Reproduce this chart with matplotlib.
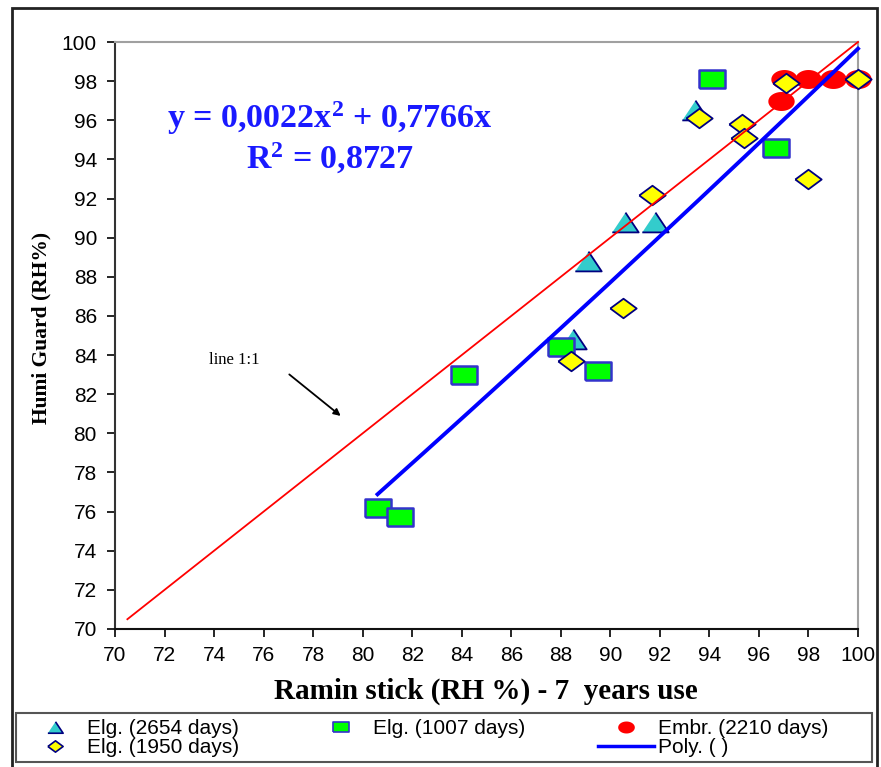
import numpy as np
import matplotlib
matplotlib.use("Agg")
import matplotlib.pyplot as plt
from matplotlib.lines import Line2D
from matplotlib.patches import Rectangle

plt.rcParams["mathtext.fontset"] = "custom"
plt.rcParams["mathtext.bf"] = "Liberation Serif:bold"
plt.rcParams["mathtext.rm"] = "Liberation Serif:bold"
plt.rcParams["mathtext.it"] = "Liberation Serif:bold"

# ---- data ----
tri_x = [93.4, 90.6, 91.8, 89.1, 88.5]
tri_y = [96.5, 90.8, 90.8, 88.8, 84.8]

sq_x = [94.1, 96.7, 84.1, 88.0, 89.5, 80.6, 81.5]
sq_y = [98.1, 94.6, 83.0, 84.4, 83.2, 76.2, 75.7]

circ_x = [97.0, 98.0, 99.0, 100.0, 96.9]
circ_y = [98.1, 98.1, 98.1, 98.1, 97.0]

dia_x = [97.1, 100.0, 93.6, 95.3, 95.4, 91.7, 98.0, 90.5, 88.4]
dia_y = [97.9, 98.1, 96.1, 95.8, 95.1, 92.2, 93.0, 86.4, 83.7]

line11_x = [70.5, 100.0]
poly_a, poly_b = 0.0022, 0.7766

xticks = list(range(70, 101, 2))
yticks = list(range(70, 101, 2))

labels = ["Elg. (2654 days)", "Elg. (1007 days)", "Embr. (2210 days)",
          "Elg. (1950 days)", "Poly. ( )"]

# ---- figure ----
W, H = 881, 767
fig = plt.figure(figsize=(W / 100, H / 100), dpi=100)
ax = fig.add_axes([115 / W, 1 - 629 / H, (858 - 115) / W, (629 - 42) / H])

tri_m = [(-1.0, -0.75), (1.0, -0.75), (0.0, 0.75)]
rect_m = [(-1, -0.7), (1, -0.7), (1, 0.7), (-1, 0.7), (-1, -0.7)]
t = np.linspace(0, 2 * np.pi, 40)
ell_m = list(zip(np.cos(t), 0.72 * np.sin(t)))
dia_m = [(-1, 0), (0, 0.74), (1, 0), (0, -0.74), (-1, 0)]

ms = 19
ax.plot(tri_x, tri_y, ls="none", marker=tri_m, ms=ms, mfc="#33CCCC",
        mec="#000080", mew=1.3, zorder=3, clip_on=False)
ax.plot(sq_x, sq_y, ls="none", marker=rect_m, ms=ms, mfc="#00FF00",
        mec="#3333CC", mew=1.8, zorder=4, clip_on=False)
ax.plot(circ_x, circ_y, ls="none", marker=ell_m, ms=ms, mfc="#FF0000",
        mec="#FF0000", mew=0, zorder=5, clip_on=False)
ax.plot(dia_x, dia_y, ls="none", marker=dia_m, ms=ms, mfc="#FFFF00",
        mec="#000080", mew=1.3, zorder=6, clip_on=False)

ax.plot(line11_x, line11_x, color="#FF0000", lw=1.3, zorder=7, clip_on=False)
all_x = np.array(tri_x + sq_x + circ_x + dia_x)
px = np.linspace(all_x.min(), all_x.max(), 200)
ax.plot(px, poly_a * px ** 2 + poly_b * px, color="#0000FF", lw=2.8,
        zorder=8, clip_on=False)

ax.set_xlim(70, 100)
ax.set_ylim(70, 100)
ax.set_xticks(xticks)
ax.set_yticks(yticks)
ax.tick_params(direction="out", length=6, width=1.2, labelsize=15,
               colors="black")
ax.tick_params(axis="x", pad=6)
ax.tick_params(axis="y", pad=7)
for lab in ax.get_xticklabels() + ax.get_yticklabels():
    lab.set_fontfamily("Liberation Sans")
ax.spines["left"].set_color("#333333")
ax.spines["bottom"].set_color("#111111")
ax.spines["left"].set_linewidth(1.5)
ax.spines["bottom"].set_linewidth(1.5)
ax.spines["top"].set_color("#A0A0A0")
ax.spines["right"].set_color("#A0A0A0")
ax.spines["top"].set_linewidth(1.5)
ax.spines["right"].set_linewidth(1.5)

serif = "Liberation Serif"
ax.text(0.289, 0.870, r"y = 0,0022x$^{2}$ + 0,7766x", transform=ax.transAxes,
        ha="center", va="center", color="#1A1AFF", fontsize=24.5,
        fontweight="bold", family=serif)
ax.text(0.289, 0.802, r"R$^{2}$ = 0,8727", transform=ax.transAxes,
        ha="center", va="center", color="#1A1AFF", fontsize=24.5,
        fontweight="bold", family=serif)

ax.text(74.8, 83.75, "line 1:1", fontsize=12, family=serif, ha="center",
        va="center")
ax.annotate("", xy=(79.2, 80.8), xytext=(76.95, 83.1),
            arrowprops=dict(arrowstyle="-|>", color="black", lw=1.3,
                            mutation_scale=10))

fig.text(486 / W, 1 - 691 / H, "Ramin stick (RH %) - 7  years use",
         ha="center", va="center", fontsize=21, fontweight="bold",
         family=serif)
fig.text(41 / W, 1 - 328 / H, "Humi Guard (RH%)", rotation=90,
         ha="center", va="center", fontsize=15.5, fontweight="bold",
         family=serif)

# outer frame
fig.add_artist(Rectangle((12 / W, -0.01), (877 - 12) / W, (H - 8) / H + 0.01,
                         transform=fig.transFigure, fill=False,
                         ec="#222222", lw=2))
# legend box
fig.add_artist(Rectangle((16 / W, 1 - 762 / H), (872 - 16) / W, 49 / H,
                         transform=fig.transFigure, fill=False,
                         ec="#555555", lw=1.5))

# legend
lms = 11
h_tri = Line2D([], [], ls="none", marker=tri_m, ms=lms, mfc="#33CCCC",
               mec="#000080", mew=1.2)
h_sq = Line2D([], [], ls="none", marker=rect_m, ms=lms, mfc="#00FF00",
              mec="#3333CC", mew=1.2)
h_circ = Line2D([], [], ls="none", marker=ell_m, ms=lms + 1, mfc="#FF0000",
                mec="#FF0000", mew=0)
h_dia = Line2D([], [], ls="none", marker=dia_m, ms=lms, mfc="#FFFF00",
               mec="#000080", mew=1.2)
h_poly = Line2D([], [], color="#0000FF", lw=2.5)
h_blank = Line2D([], [], ls="none")
handles = [h_tri, h_dia, h_sq, h_blank, h_circ, h_poly]
labs = [labels[0], labels[3], labels[1], "", labels[2], labels[4]]
leg = fig.legend(handles, labs, ncol=3, loc="center left",
                 bbox_to_anchor=(27 / W, 1 - 738 / H),
                 frameon=False, prop={"family": "Liberation Sans", "size": 15},
                 handlelength=2.7, handletextpad=0.2, borderaxespad=0,
                 labelspacing=0.0, borderpad=0, columnspacing=3.5)

fig.savefig("out.png", dpi=100)
